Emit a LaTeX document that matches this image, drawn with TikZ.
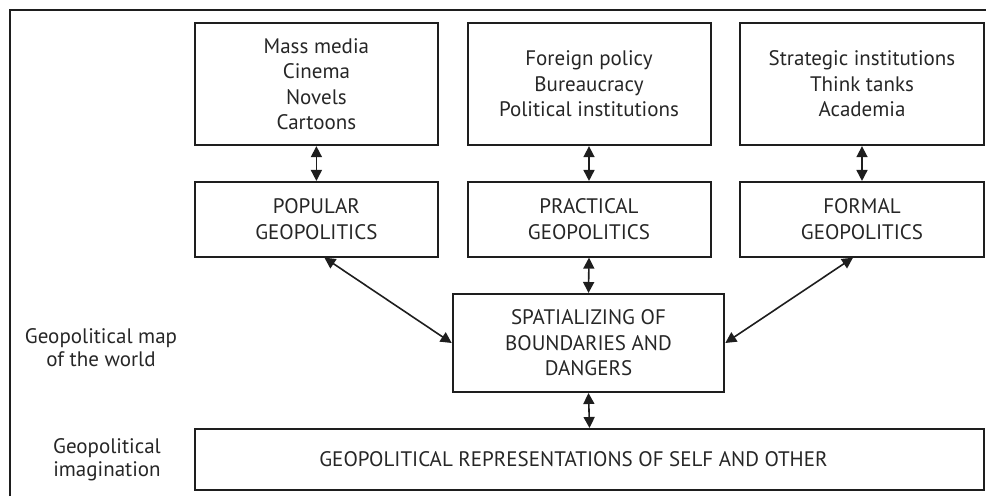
\documentclass[tikz,border=0pt]{standalone}
\usepackage{fontspec}
\setmainfont{PT Sans}
\usetikzlibrary{arrows.meta}
\definecolor{ln}{HTML}{1E1E1E}
\definecolor{tx}{HTML}{262626}
\begin{document}
\begin{tikzpicture}[x=1pt,y=-1pt,
  plainbox/.style={draw=ln,line width=2pt,rectangle,inner sep=0pt,text=tx,
    font=\fontsize{21}{25.5}\selectfont},
  box/.style={plainbox,align=center},
  lbl/.style={align=center,text=tx,font=\fontsize{21}{23}\selectfont,inner sep=0pt},
  link/.style={draw=ln,line width=1.6pt,{Triangle[length=11pt,width=11pt]}-{Triangle[length=11pt,width=11pt]}}]
\useasboundingbox (0,0) rectangle (986,496);
\draw[ln,line width=1.2pt] (10,496) -- (10,10) -- (986,10);
% top row
\node[box,minimum width=242.7pt,minimum height=122.3pt] (b1) at (316.4,84) {Mass media\\Cinema\\Novels\\Cartoons};
\node[box,minimum width=243pt,minimum height=122.3pt] (b2) at (589,84) {Foreign policy\\Bureaucracy\\Political institutions};
\node[box,minimum width=244pt,minimum height=122.3pt] (b3) at (862,84) {Strategic institutions\\Think tanks\\Academia};
% middle row
\node[box,minimum width=242.7pt,minimum height=74.7pt] (p1) at (316.4,219.3) {POPULAR\\GEOPOLITICS};
\node[box,minimum width=243pt,minimum height=74.7pt] (p2) at (589,219.3) {PRACTICAL\\GEOPOLITICS};
\node[box,minimum width=244pt,minimum height=74.7pt] (p3) at (862,219.3) {FORMAL\\GEOPOLITICS};
% spatializing
\node[box,minimum width=271.6pt,minimum height=98pt] (sp) at (588.5,343) {SPATIALIZING OF\\BOUNDARIES AND\\DANGERS};
% bottom
\node[plainbox,minimum width=789pt,minimum height=61pt] (rep) at (589.5,459.5) {\hspace{-32pt}GEOPOLITICAL REPRESENTATIONS OF SELF AND OTHER};
% left labels
\node[lbl] (l1) at (101,348) {Geopolitical map\\of the world};
\node[lbl] (l2) at (107,460) {Geopolitical\\imagination};
% connectors
\draw[link] (b1.south) -- (p1.north);
\draw[link] (b2.south) -- (p2.north);
\draw[link] (b3.south) -- (p3.north);
\draw[link] (p2.south) -- (sp.north);
\draw[link] (sp.south) -- (rep.north);
\draw[link] ([xshift=8pt]p1.south) -- (sp.west);
\draw[link] ([xshift=-9pt]p3.south) -- (sp.east);
\end{tikzpicture}
\end{document}
